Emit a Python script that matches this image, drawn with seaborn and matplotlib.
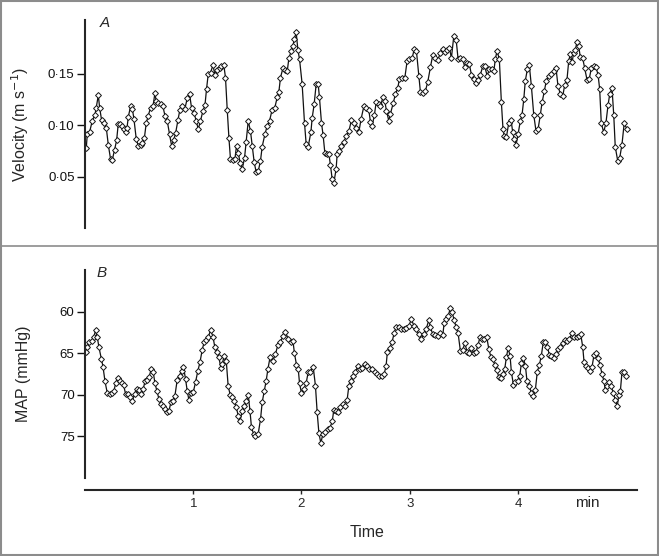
import numpy as np
import matplotlib
matplotlib.use('Agg')
import matplotlib.pyplot as plt
import seaborn as sns
from matplotlib.lines import Line2D
from matplotlib.patches import Rectangle

# panel A: cerebral blood velocity, beat by beat (time in min, m/s)
time_a = [0.012, 0.021, 0.042, 0.067, 0.092, 0.104, 0.123, 0.135, 0.153, 0.175, 0.197, 0.215, 0.236, 0.252, 0.273, 0.292,
          0.307, 0.323, 0.338, 0.356, 0.375, 0.388, 0.400, 0.421, 0.437, 0.452, 0.474, 0.492, 0.513, 0.529, 0.548, 0.566,
          0.584, 0.606, 0.628, 0.646, 0.658, 0.677, 0.698, 0.720, 0.739, 0.760, 0.781, 0.800, 0.818, 0.837, 0.859, 0.877,
          0.898, 0.923, 0.945, 0.966, 0.984, 1.006, 1.028, 1.046, 1.067, 1.090, 1.108, 1.123, 1.139, 1.160, 1.182, 1.200,
          1.222, 1.243, 1.261, 1.283, 1.298, 1.314, 1.330, 1.344, 1.367, 1.385, 1.400, 1.416, 1.434, 1.452, 1.474, 1.489,
          1.508, 1.529, 1.545, 1.563, 1.582, 1.600, 1.621, 1.637, 1.662, 1.683, 1.705, 1.729, 1.754, 1.776, 1.791, 1.806,
          1.828, 1.852, 1.868, 1.884, 1.905, 1.921, 1.935, 1.951, 1.967, 1.982, 2.006, 2.028, 2.043, 2.062, 2.087, 2.099,
          2.117, 2.136, 2.154, 2.166, 2.185, 2.200, 2.216, 2.237, 2.253, 2.268, 2.283, 2.299, 2.320, 2.330, 2.351, 2.369,
          2.392, 2.413, 2.438, 2.462, 2.484, 2.508, 2.530, 2.551, 2.576, 2.597, 2.622, 2.637, 2.653, 2.674, 2.690, 2.715,
          2.730, 2.752, 2.770, 2.785, 2.807, 2.822, 2.847, 2.868, 2.890, 2.905, 2.930, 2.955, 2.976, 2.997, 3.022, 3.043,
          3.062, 3.084, 3.099, 3.121, 3.145, 3.167, 3.191, 3.213, 3.237, 3.259, 3.283, 3.306, 3.330, 3.345, 3.367, 3.385,
          3.407, 3.429, 3.447, 3.468, 3.490, 3.509, 3.530, 3.551, 3.570, 3.592, 3.613, 3.632, 3.653, 3.675, 3.693, 3.715,
          3.736, 3.761, 3.777, 3.791, 3.807, 3.828, 3.847, 3.862, 3.874, 3.893, 3.915, 3.936, 3.952, 3.967, 3.983, 4.001,
          4.022, 4.038, 4.054, 4.068, 4.087, 4.105, 4.124, 4.146, 4.167, 4.186, 4.207, 4.223, 4.244, 4.262, 4.284, 4.306,
          4.331, 4.352, 4.370, 4.392, 4.414, 4.432, 4.453, 4.469, 4.484, 4.500, 4.515, 4.530, 4.546, 4.561, 4.576, 4.598,
          4.617, 4.638, 4.659, 4.678, 4.700, 4.721, 4.740, 4.755, 4.770, 4.792, 4.813, 4.832, 4.848, 4.869, 4.885, 4.899,
          4.922, 4.940, 4.961, 4.982, 5.007]
velocity = [0.078, 0.091, 0.093, 0.104, 0.110, 0.117, 0.129, 0.117, 0.105, 0.102, 0.097, 0.081, 0.067, 0.066, 0.076, 0.085,
            0.101, 0.101, 0.099, 0.096, 0.093, 0.097, 0.108, 0.118, 0.116, 0.106, 0.086, 0.080, 0.081, 0.083, 0.087, 0.102,
            0.109, 0.117, 0.118, 0.131, 0.123, 0.121, 0.120, 0.118, 0.109, 0.104, 0.091, 0.080, 0.085, 0.092, 0.105, 0.115,
            0.118, 0.116, 0.126, 0.130, 0.117, 0.112, 0.104, 0.096, 0.104, 0.114, 0.119, 0.135, 0.150, 0.151, 0.158, 0.149,
            0.153, 0.155, 0.157, 0.158, 0.146, 0.115, 0.087, 0.067, 0.066, 0.067, 0.080, 0.073, 0.063, 0.057, 0.068, 0.084,
            0.104, 0.094, 0.080, 0.064, 0.054, 0.055, 0.065, 0.079, 0.091, 0.099, 0.104, 0.115, 0.117, 0.127, 0.132, 0.146,
            0.155, 0.153, 0.152, 0.165, 0.172, 0.177, 0.184, 0.190, 0.173, 0.164, 0.140, 0.102, 0.082, 0.079, 0.093, 0.107,
            0.120, 0.140, 0.140, 0.127, 0.102, 0.090, 0.073, 0.072, 0.072, 0.061, 0.048, 0.044, 0.057, 0.072, 0.075, 0.080,
            0.084, 0.089, 0.094, 0.105, 0.102, 0.097, 0.093, 0.106, 0.118, 0.117, 0.115, 0.103, 0.099, 0.110, 0.122, 0.120,
            0.118, 0.127, 0.123, 0.114, 0.104, 0.111, 0.121, 0.130, 0.136, 0.145, 0.146, 0.146, 0.162, 0.164, 0.165, 0.174,
            0.172, 0.148, 0.132, 0.131, 0.133, 0.142, 0.156, 0.168, 0.165, 0.163, 0.170, 0.174, 0.171, 0.173, 0.175, 0.165,
            0.186, 0.183, 0.164, 0.165, 0.164, 0.156, 0.160, 0.159, 0.149, 0.145, 0.141, 0.144, 0.149, 0.157, 0.157, 0.148,
            0.154, 0.154, 0.152, 0.164, 0.172, 0.164, 0.122, 0.096, 0.089, 0.088, 0.102, 0.105, 0.093, 0.086, 0.081, 0.091,
            0.104, 0.110, 0.125, 0.143, 0.154, 0.158, 0.138, 0.110, 0.094, 0.096, 0.110, 0.122, 0.133, 0.143, 0.148, 0.150,
            0.152, 0.155, 0.138, 0.130, 0.128, 0.139, 0.144, 0.162, 0.169, 0.161, 0.170, 0.173, 0.181, 0.177, 0.166, 0.165,
            0.155, 0.144, 0.145, 0.155, 0.157, 0.156, 0.149, 0.135, 0.102, 0.093, 0.102, 0.119, 0.130, 0.136, 0.110, 0.079,
            0.065, 0.068, 0.081, 0.102, 0.096]

# panel B: mean arterial pressure (time in min, mmHg)
time_b = [0.006, 0.021, 0.037, 0.061, 0.083, 0.098, 0.114, 0.129, 0.151, 0.166, 0.185, 0.206, 0.227, 0.246, 0.268, 0.283,
          0.301, 0.320, 0.338, 0.356, 0.375, 0.397, 0.416, 0.437, 0.458, 0.476, 0.499, 0.520, 0.538, 0.554, 0.573, 0.591,
          0.612, 0.631, 0.646, 0.665, 0.683, 0.702, 0.720, 0.739, 0.757, 0.776, 0.794, 0.813, 0.831, 0.852, 0.874, 0.892,
          0.910, 0.929, 0.945, 0.960, 0.979, 1.000, 1.021, 1.043, 1.062, 1.083, 1.102, 1.120, 1.139, 1.160, 1.182, 1.200,
          1.219, 1.237, 1.256, 1.268, 1.286, 1.305, 1.323, 1.342, 1.360, 1.379, 1.397, 1.416, 1.431, 1.453, 1.471, 1.489,
          1.508, 1.524, 1.538, 1.557, 1.575, 1.600, 1.622, 1.637, 1.656, 1.674, 1.690, 1.711, 1.736, 1.760, 1.782, 1.806,
          1.828, 1.852, 1.877, 1.899, 1.921, 1.935, 1.954, 1.970, 1.982, 2.000, 2.022, 2.043, 2.062, 2.083, 2.108, 2.129,
          2.145, 2.161, 2.179, 2.198, 2.222, 2.244, 2.262, 2.284, 2.299, 2.320, 2.339, 2.360, 2.382, 2.401, 2.422, 2.438,
          2.453, 2.475, 2.499, 2.521, 2.539, 2.561, 2.586, 2.607, 2.628, 2.653, 2.678, 2.699, 2.720, 2.745, 2.764, 2.782,
          2.794, 2.816, 2.838, 2.856, 2.875, 2.900, 2.921, 2.946, 2.967, 2.992, 3.016, 3.038, 3.059, 3.084, 3.108, 3.130,
          3.152, 3.177, 3.191, 3.213, 3.237, 3.262, 3.284, 3.306, 3.318, 3.336, 3.355, 3.376, 3.392, 3.410, 3.429, 3.447,
          3.468, 3.490, 3.509, 3.530, 3.551, 3.570, 3.592, 3.613, 3.632, 3.650, 3.669, 3.690, 3.712, 3.731, 3.749, 3.768,
          3.786, 3.805, 3.823, 3.841, 3.860, 3.878, 3.893, 3.909, 3.927, 3.939, 3.958, 3.976, 3.998, 4.017, 4.032, 4.050,
          4.069, 4.084, 4.105, 4.124, 4.142, 4.161, 4.179, 4.198, 4.216, 4.235, 4.253, 4.272, 4.290, 4.309, 4.331, 4.352,
          4.370, 4.392, 4.414, 4.432, 4.453, 4.475, 4.500, 4.521, 4.543, 4.562, 4.580, 4.599, 4.611, 4.629, 4.648, 4.666,
          4.685, 4.703, 4.721, 4.740, 4.758, 4.777, 4.795, 4.807, 4.826, 4.844, 4.863, 4.881, 4.900, 4.918, 4.931, 4.946,
          4.961, 4.980, 4.998]
map_mmhg = [64.8, 64.3, 63.7, 63.5, 63.0, 62.2, 63.1, 64.3, 65.7, 66.6, 68.4, 69.8, 69.9, 69.8, 69.5, 68.6,
            68.0, 68.4, 68.6, 68.8, 69.9, 69.9, 70.3, 70.8, 69.9, 69.3, 69.4, 69.9, 69.3, 68.4, 68.2, 67.9,
            66.9, 67.3, 68.6, 69.6, 70.5, 71.1, 71.3, 71.7, 72.1, 71.9, 70.9, 70.7, 70.1, 68.2, 67.7, 67.1,
            66.7, 68.1, 69.6, 70.6, 69.8, 69.7, 68.5, 67.1, 66.1, 64.6, 63.6, 63.4, 63.1, 62.2, 63.0, 64.3,
            64.8, 65.5, 66.8, 66.3, 65.3, 65.9, 69.0, 70.0, 70.3, 70.8, 71.5, 72.5, 73.2, 71.9, 71.3, 70.8,
            70.0, 71.9, 73.9, 74.7, 75.0, 74.7, 72.9, 70.9, 69.6, 68.3, 66.9, 65.4, 65.9, 65.1, 64.0, 63.7,
            62.9, 62.4, 63.3, 63.7, 63.5, 65.0, 66.4, 66.9, 68.6, 69.8, 69.3, 68.6, 67.3, 67.2, 66.6, 68.9,
            72.1, 74.6, 75.8, 74.7, 74.5, 74.1, 74.0, 73.2, 71.8, 72.0, 72.1, 71.5, 71.1, 71.3, 70.6, 68.9,
            68.3, 67.7, 67.3, 66.5, 66.9, 66.8, 66.3, 66.5, 66.9, 66.9, 67.3, 67.5, 67.8, 67.8, 67.5, 66.5,
            64.8, 64.4, 63.6, 62.6, 61.8, 61.9, 62.1, 62.1, 62.0, 61.7, 60.9, 61.7, 62.1, 62.7, 63.3, 62.7,
            62.1, 61.0, 61.9, 62.7, 62.8, 62.9, 62.6, 62.8, 61.4, 60.9, 60.5, 59.6, 60.1, 61.0, 61.9, 62.6,
            64.7, 64.6, 63.8, 64.8, 65.0, 64.4, 65.0, 64.8, 64.0, 63.0, 63.3, 63.3, 63.1, 64.5, 65.4, 65.7,
            66.4, 67.0, 67.9, 68.0, 67.5, 66.9, 65.5, 64.4, 65.3, 67.2, 68.8, 68.5, 68.3, 67.7, 66.2, 65.6,
            66.5, 68.4, 68.9, 69.8, 70.1, 69.4, 67.2, 66.4, 65.3, 63.6, 63.7, 64.2, 65.2, 65.3, 65.6, 65.1,
            64.5, 64.2, 63.8, 63.4, 63.5, 63.3, 62.6, 63.0, 63.1, 62.9, 62.7, 64.3, 66.1, 66.5, 66.8, 67.1,
            66.6, 65.2, 65.0, 65.6, 66.4, 67.5, 68.4, 69.4, 69.0, 68.5, 69.0, 69.8, 70.6, 71.4, 70.0, 69.6,
            67.3, 67.2, 67.7]

vel_ticks = [0.05, 0.10, 0.15]
vel_labels = ['0·05', '0·10', '0·15']
map_ticks = [60, 65, 70, 75]
time_ticks = [1, 2, 3, 4]

sns.set_style('ticks')
plt.rcParams['font.family'] = ['Liberation Sans', 'DejaVu Sans']
plt.rcParams['axes.linewidth'] = 1.5

W, H = 659, 556
fig = plt.figure(figsize=(W / 100, H / 100), dpi=100)

ax_a = fig.add_axes([85 / W, 1 - 228 / H, 552 / W, 208 / H])
ax_b = fig.add_axes([85 / W, 1 - 478 / H, 552 / W, 208 / H])

style = dict(color='#111111', lw=0.9, marker='D', markersize=3.0,
             markerfacecolor='white', markeredgecolor='#111111', markeredgewidth=0.7,
             estimator=None, sort=False)
sns.lineplot(x=time_a, y=velocity, ax=ax_a, **style)
sns.lineplot(x=time_b, y=map_mmhg, ax=ax_b, **style)

for ax in (ax_a, ax_b):
    ax.set_xlim(0, 5.1)
    ax.spines['top'].set_visible(False)
    ax.spines['right'].set_visible(False)
    ax.tick_params(axis='y', length=6, width=1, pad=1.5, labelsize=9.5, colors='#111111')
    ax.set_facecolor('none')

# panel A: no time axis
ax_a.set_ylim(0.0, 0.202)
ax_a.set_yticks(vel_ticks)
ax_a.set_yticklabels(vel_labels)
ax_a.spines['bottom'].set_visible(False)
ax_a.set_xticks([])
ax_a.set_xlabel('')
ax_a.set_ylabel('Velocity (m s$^{-1}$)', fontsize=11.5)
ax_a.yaxis.set_label_coords(-0.098, 0.5)
ax_a.text(0.035, 0.985, 'A', transform=ax_a.transAxes, fontsize=11, style='italic', ha='center', va='center')

# panel B: MAP, plotted downwards
ax_b.set_ylim(80, 55)
ax_b.set_yticks(map_ticks)
ax_b.spines['bottom'].set_position(('outward', 8.6))
ax_b.set_xticks(time_ticks)
ax_b.tick_params(axis='x', length=3, width=1, pad=3, labelsize=9.5)
ax_b.set_ylabel('MAP (mmHg)', fontsize=11.5)
ax_b.yaxis.set_label_coords(-0.098, 0.5)
ax_b.set_xlabel('Time', fontsize=11.5)
ax_b.xaxis.set_label_coords(0.511, -0.225)
ax_b.text(0.03, 0.985, 'B', transform=ax_b.transAxes, fontsize=11, style='italic', ha='center', va='center')
fig.text(587 / W, 1 - 507 / H, 'min', fontsize=11, ha='center', va='baseline')

# frame and divider of the original figure
fig.add_artist(Rectangle((0.002, 0.002), 0.996, 0.996, transform=fig.transFigure,
                         fill=False, edgecolor='#8c8c8c', lw=1.5))
fig.add_artist(Line2D([0, 1], [1 - 246 / H, 1 - 246 / H], transform=fig.transFigure,
                      color='#8c8c8c', lw=1.2))

fig.savefig('out.png', dpi=100, facecolor='white')
